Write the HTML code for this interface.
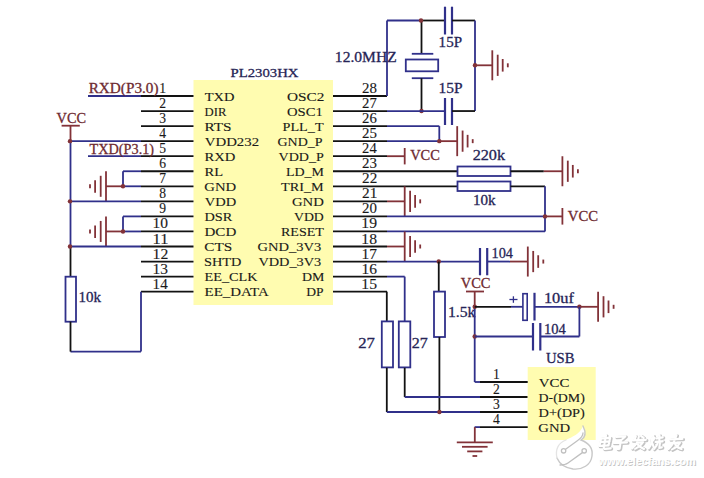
<!DOCTYPE html>
<html><head><meta charset="utf-8"><style>
html,body{margin:0;padding:0;background:#fff;}
svg{display:block;font-family:"Liberation Serif",serif;}
</style></head><body>
<svg width="704" height="478" viewBox="0 0 704 478">
<rect width="704" height="478" fill="#fff"/>
<rect x="193.5" y="80" width="139.5" height="225" fill="#fffcb0"/>
<text x="230.54" y="77.2" fill="#262456" stroke="#262456" stroke-width="0.28" font-size="12.6" textLength="67.87" lengthAdjust="spacingAndGlyphs">PL2303HX</text>
<line x1="141" y1="96.0" x2="193.5" y2="96.0" stroke="#121212" stroke-width="1.8"/>
<text x="162.7" y="93.0" fill="#1a1a1a" stroke="#1a1a1a" stroke-width="0.12" font-size="13.6" text-anchor="middle">1</text>
<text x="204.7" y="100.5" fill="#1a1a1a" stroke="#1a1a1a" stroke-width="0.12" font-size="13.2" textLength="29.72" lengthAdjust="spacingAndGlyphs">TXD</text>
<line x1="333" y1="96.0" x2="387" y2="96.0" stroke="#121212" stroke-width="1.8"/>
<text x="362.11" y="93.0" fill="#1a1a1a" stroke="#1a1a1a" stroke-width="0.12" font-size="13.6" textLength="14.9" lengthAdjust="spacingAndGlyphs">28</text>
<text x="286.93" y="100.5" fill="#1a1a1a" stroke="#1a1a1a" stroke-width="0.12" font-size="13.2" textLength="37.35" lengthAdjust="spacingAndGlyphs">OSC2</text>
<line x1="141" y1="111.05" x2="193.5" y2="111.05" stroke="#121212" stroke-width="1.8"/>
<text x="162.7" y="108.05" fill="#1a1a1a" stroke="#1a1a1a" stroke-width="0.12" font-size="13.6" text-anchor="middle">2</text>
<text x="204.59" y="115.55" fill="#1a1a1a" stroke="#1a1a1a" stroke-width="0.12" font-size="13.2" textLength="21.86" lengthAdjust="spacingAndGlyphs">DIR</text>
<line x1="333" y1="111.05" x2="387" y2="111.05" stroke="#121212" stroke-width="1.8"/>
<text x="362.11" y="108.05" fill="#1a1a1a" stroke="#1a1a1a" stroke-width="0.12" font-size="13.6" textLength="14.75" lengthAdjust="spacingAndGlyphs">27</text>
<text x="286.96" y="115.55" fill="#1a1a1a" stroke="#1a1a1a" stroke-width="0.12" font-size="13.2" textLength="35.86" lengthAdjust="spacingAndGlyphs">OSC1</text>
<line x1="141" y1="126.1" x2="193.5" y2="126.1" stroke="#121212" stroke-width="1.8"/>
<text x="162.7" y="123.1" fill="#1a1a1a" stroke="#1a1a1a" stroke-width="0.12" font-size="13.6" text-anchor="middle">3</text>
<text x="204.54" y="130.6" fill="#1a1a1a" stroke="#1a1a1a" stroke-width="0.12" font-size="13.2" textLength="27.02" lengthAdjust="spacingAndGlyphs">RTS</text>
<line x1="333" y1="126.1" x2="387" y2="126.1" stroke="#121212" stroke-width="1.8"/>
<text x="362.11" y="123.1" fill="#1a1a1a" stroke="#1a1a1a" stroke-width="0.12" font-size="13.6" textLength="14.77" lengthAdjust="spacingAndGlyphs">26</text>
<text x="282.55" y="130.6" fill="#1a1a1a" stroke="#1a1a1a" stroke-width="0.12" font-size="13.2" textLength="41.02" lengthAdjust="spacingAndGlyphs">PLL_T</text>
<line x1="141" y1="141.15" x2="193.5" y2="141.15" stroke="#121212" stroke-width="1.8"/>
<text x="162.7" y="138.15" fill="#1a1a1a" stroke="#1a1a1a" stroke-width="0.12" font-size="13.6" text-anchor="middle">4</text>
<text x="204.79" y="145.65" fill="#1a1a1a" stroke="#1a1a1a" stroke-width="0.12" font-size="13.2" textLength="54.26" lengthAdjust="spacingAndGlyphs">VDD232</text>
<line x1="333" y1="141.15" x2="387" y2="141.15" stroke="#121212" stroke-width="1.8"/>
<text x="362.1" y="138.15" fill="#1a1a1a" stroke="#1a1a1a" stroke-width="0.12" font-size="13.6" textLength="14.92" lengthAdjust="spacingAndGlyphs">25</text>
<text x="277.49" y="145.65" fill="#1a1a1a" stroke="#1a1a1a" stroke-width="0.12" font-size="13.2" textLength="45.01" lengthAdjust="spacingAndGlyphs">GND_P</text>
<line x1="141" y1="156.2" x2="193.5" y2="156.2" stroke="#121212" stroke-width="1.8"/>
<text x="162.7" y="153.2" fill="#1a1a1a" stroke="#1a1a1a" stroke-width="0.12" font-size="13.6" text-anchor="middle">5</text>
<text x="204.54" y="160.7" fill="#1a1a1a" stroke="#1a1a1a" stroke-width="0.12" font-size="13.2" textLength="30.89" lengthAdjust="spacingAndGlyphs">RXD</text>
<line x1="333" y1="156.2" x2="387" y2="156.2" stroke="#121212" stroke-width="1.8"/>
<text x="362.12" y="153.2" fill="#1a1a1a" stroke="#1a1a1a" stroke-width="0.12" font-size="13.6" textLength="14.55" lengthAdjust="spacingAndGlyphs">24</text>
<text x="278.6" y="160.7" fill="#1a1a1a" stroke="#1a1a1a" stroke-width="0.12" font-size="13.2" textLength="45.2" lengthAdjust="spacingAndGlyphs">VDD_P</text>
<line x1="141" y1="171.25" x2="193.5" y2="171.25" stroke="#121212" stroke-width="1.8"/>
<text x="162.7" y="168.25" fill="#1a1a1a" stroke="#1a1a1a" stroke-width="0.12" font-size="13.6" text-anchor="middle">6</text>
<text x="204.54" y="175.75" fill="#1a1a1a" stroke="#1a1a1a" stroke-width="0.12" font-size="13.2" textLength="18.57" lengthAdjust="spacingAndGlyphs">RL</text>
<line x1="333" y1="171.25" x2="387" y2="171.25" stroke="#121212" stroke-width="1.8"/>
<text x="362.1" y="168.25" fill="#1a1a1a" stroke="#1a1a1a" stroke-width="0.12" font-size="13.6" textLength="14.92" lengthAdjust="spacingAndGlyphs">23</text>
<text x="285.96" y="175.75" fill="#1a1a1a" stroke="#1a1a1a" stroke-width="0.12" font-size="13.2" textLength="38.09" lengthAdjust="spacingAndGlyphs">LD_M</text>
<line x1="141" y1="186.3" x2="193.5" y2="186.3" stroke="#121212" stroke-width="1.8"/>
<text x="162.7" y="183.3" fill="#1a1a1a" stroke="#1a1a1a" stroke-width="0.12" font-size="13.6" text-anchor="middle">7</text>
<text x="204.36" y="190.8" fill="#1a1a1a" stroke="#1a1a1a" stroke-width="0.12" font-size="13.2" textLength="31.87" lengthAdjust="spacingAndGlyphs">GND</text>
<line x1="333" y1="186.3" x2="387" y2="186.3" stroke="#121212" stroke-width="1.8"/>
<text x="362.09" y="183.3" fill="#1a1a1a" stroke="#1a1a1a" stroke-width="0.12" font-size="13.6" textLength="15.19" lengthAdjust="spacingAndGlyphs">22</text>
<text x="281.1" y="190.8" fill="#1a1a1a" stroke="#1a1a1a" stroke-width="0.12" font-size="13.2" textLength="42.55" lengthAdjust="spacingAndGlyphs">TRI_M</text>
<line x1="141" y1="201.35000000000002" x2="193.5" y2="201.35000000000002" stroke="#121212" stroke-width="1.8"/>
<text x="162.7" y="198.35" fill="#1a1a1a" stroke="#1a1a1a" stroke-width="0.12" font-size="13.6" text-anchor="middle">8</text>
<text x="204.8" y="205.85" fill="#1a1a1a" stroke="#1a1a1a" stroke-width="0.12" font-size="13.2" textLength="31.42" lengthAdjust="spacingAndGlyphs">VDD</text>
<line x1="333" y1="201.35000000000002" x2="387" y2="201.35000000000002" stroke="#121212" stroke-width="1.8"/>
<text x="362.09" y="198.35" fill="#1a1a1a" stroke="#1a1a1a" stroke-width="0.12" font-size="13.6" textLength="15.27" lengthAdjust="spacingAndGlyphs">21</text>
<text x="291.96" y="205.85" fill="#1a1a1a" stroke="#1a1a1a" stroke-width="0.12" font-size="13.2" textLength="31.87" lengthAdjust="spacingAndGlyphs">GND</text>
<line x1="141" y1="216.4" x2="193.5" y2="216.4" stroke="#121212" stroke-width="1.8"/>
<text x="162.7" y="213.4" fill="#1a1a1a" stroke="#1a1a1a" stroke-width="0.12" font-size="13.6" text-anchor="middle">9</text>
<text x="204.55" y="220.9" fill="#1a1a1a" stroke="#1a1a1a" stroke-width="0.12" font-size="13.2" textLength="27.81" lengthAdjust="spacingAndGlyphs">DSR</text>
<line x1="333" y1="216.4" x2="387" y2="216.4" stroke="#121212" stroke-width="1.8"/>
<text x="362.11" y="213.4" fill="#1a1a1a" stroke="#1a1a1a" stroke-width="0.12" font-size="13.6" textLength="14.9" lengthAdjust="spacingAndGlyphs">20</text>
<text x="294.01" y="220.9" fill="#1a1a1a" stroke="#1a1a1a" stroke-width="0.12" font-size="13.2" textLength="29.78" lengthAdjust="spacingAndGlyphs">VDD</text>
<line x1="141" y1="231.45000000000002" x2="193.5" y2="231.45000000000002" stroke="#121212" stroke-width="1.8"/>
<text x="152.6" y="228.45" fill="#1a1a1a" stroke="#1a1a1a" stroke-width="0.12" font-size="13.6" textLength="15.42" lengthAdjust="spacingAndGlyphs">10</text>
<text x="204.53" y="235.95" fill="#1a1a1a" stroke="#1a1a1a" stroke-width="0.12" font-size="13.2" textLength="31.71" lengthAdjust="spacingAndGlyphs">DCD</text>
<line x1="333" y1="231.45000000000002" x2="387" y2="231.45000000000002" stroke="#121212" stroke-width="1.8"/>
<text x="361.38" y="228.45" fill="#1a1a1a" stroke="#1a1a1a" stroke-width="0.12" font-size="13.6" textLength="15.7" lengthAdjust="spacingAndGlyphs">19</text>
<text x="280.96" y="235.95" fill="#1a1a1a" stroke="#1a1a1a" stroke-width="0.12" font-size="13.2" textLength="42.92" lengthAdjust="spacingAndGlyphs">RESET</text>
<line x1="141" y1="246.5" x2="193.5" y2="246.5" stroke="#121212" stroke-width="1.8"/>
<text x="152.57" y="243.5" fill="#1a1a1a" stroke="#1a1a1a" stroke-width="0.12" font-size="13.6" textLength="15.82" lengthAdjust="spacingAndGlyphs">11</text>
<text x="204.34" y="251.0" fill="#1a1a1a" stroke="#1a1a1a" stroke-width="0.12" font-size="13.2" textLength="27.84" lengthAdjust="spacingAndGlyphs">CTS</text>
<line x1="333" y1="246.5" x2="387" y2="246.5" stroke="#121212" stroke-width="1.8"/>
<text x="361.38" y="243.5" fill="#1a1a1a" stroke="#1a1a1a" stroke-width="0.12" font-size="13.6" textLength="15.65" lengthAdjust="spacingAndGlyphs">18</text>
<text x="257.56" y="251.0" fill="#1a1a1a" stroke="#1a1a1a" stroke-width="0.12" font-size="13.2" textLength="63.74" lengthAdjust="spacingAndGlyphs">GND_3V3</text>
<line x1="141" y1="261.55" x2="193.5" y2="261.55" stroke="#121212" stroke-width="1.8"/>
<text x="152.58" y="258.55" fill="#1a1a1a" stroke="#1a1a1a" stroke-width="0.12" font-size="13.6" textLength="15.73" lengthAdjust="spacingAndGlyphs">12</text>
<text x="204.0" y="266.05" fill="#1a1a1a" stroke="#1a1a1a" stroke-width="0.12" font-size="13.2" textLength="37.41" lengthAdjust="spacingAndGlyphs">SHTD</text>
<line x1="333" y1="261.55" x2="387" y2="261.55" stroke="#121212" stroke-width="1.8"/>
<text x="361.4" y="258.55" fill="#1a1a1a" stroke="#1a1a1a" stroke-width="0.12" font-size="13.6" textLength="15.49" lengthAdjust="spacingAndGlyphs">17</text>
<text x="258.4" y="266.05" fill="#1a1a1a" stroke="#1a1a1a" stroke-width="0.12" font-size="13.2" textLength="62.9" lengthAdjust="spacingAndGlyphs">VDD_3V3</text>
<line x1="141" y1="276.6" x2="193.5" y2="276.6" stroke="#121212" stroke-width="1.8"/>
<text x="152.6" y="273.6" fill="#1a1a1a" stroke="#1a1a1a" stroke-width="0.12" font-size="13.6" textLength="15.44" lengthAdjust="spacingAndGlyphs">13</text>
<text x="204.55" y="281.1" fill="#1a1a1a" stroke="#1a1a1a" stroke-width="0.12" font-size="13.2" textLength="53.04" lengthAdjust="spacingAndGlyphs">EE_CLK</text>
<line x1="333" y1="276.6" x2="387" y2="276.6" stroke="#121212" stroke-width="1.8"/>
<text x="361.4" y="273.6" fill="#1a1a1a" stroke="#1a1a1a" stroke-width="0.12" font-size="13.6" textLength="15.5" lengthAdjust="spacingAndGlyphs">16</text>
<text x="301.96" y="281.1" fill="#1a1a1a" stroke="#1a1a1a" stroke-width="0.12" font-size="13.2" textLength="22.39" lengthAdjust="spacingAndGlyphs">DM</text>
<line x1="141" y1="291.65" x2="193.5" y2="291.65" stroke="#121212" stroke-width="1.8"/>
<text x="152.64" y="288.65" fill="#1a1a1a" stroke="#1a1a1a" stroke-width="0.12" font-size="13.6" textLength="15.04" lengthAdjust="spacingAndGlyphs">14</text>
<text x="204.55" y="296.15" fill="#1a1a1a" stroke="#1a1a1a" stroke-width="0.12" font-size="13.2" textLength="64.09" lengthAdjust="spacingAndGlyphs">EE_DATA</text>
<line x1="333" y1="291.65" x2="387" y2="291.65" stroke="#121212" stroke-width="1.8"/>
<text x="361.38" y="288.65" fill="#1a1a1a" stroke="#1a1a1a" stroke-width="0.12" font-size="13.6" textLength="15.67" lengthAdjust="spacingAndGlyphs">15</text>
<text x="306.17" y="296.15" fill="#1a1a1a" stroke="#1a1a1a" stroke-width="0.12" font-size="13.2" textLength="17.31" lengthAdjust="spacingAndGlyphs">DP</text>
<line x1="88" y1="96.0" x2="141" y2="96.0" stroke="#30308a" stroke-width="1.8"/>
<text x="88.72" y="93.1" fill="#6e2a30" stroke="#6e2a30" stroke-width="0.28" font-size="14" textLength="69.79" lengthAdjust="spacingAndGlyphs">RXD(P3.0)</text>
<line x1="70" y1="141.15" x2="141" y2="141.15" stroke="#30308a" stroke-width="1.8"/>
<text x="56.6" y="122.9" fill="#6e2a30" stroke="#6e2a30" stroke-width="0.28" font-size="14" textLength="29.43" lengthAdjust="spacingAndGlyphs">VCC</text>
<line x1="61.6" y1="125.7" x2="79.8" y2="125.7" stroke="#823238" stroke-width="1.8"/>
<line x1="70.5" y1="125.7" x2="70.5" y2="141.15" stroke="#823238" stroke-width="1.8"/>
<line x1="88" y1="156.2" x2="141" y2="156.2" stroke="#30308a" stroke-width="1.8"/>
<text x="89.6" y="153.7" fill="#6e2a30" stroke="#6e2a30" stroke-width="0.28" font-size="14" textLength="64.46" lengthAdjust="spacingAndGlyphs">TXD(P3.1)</text>
<line x1="123" y1="171.25" x2="141" y2="171.25" stroke="#30308a" stroke-width="1.8"/>
<line x1="123" y1="171.25" x2="123" y2="186.3" stroke="#30308a" stroke-width="1.8"/>
<line x1="123" y1="186.3" x2="141" y2="186.3" stroke="#30308a" stroke-width="1.8"/>
<line x1="106" y1="186.3" x2="123" y2="186.3" stroke="#823238" stroke-width="1.8"/>
<line x1="106" y1="171.3" x2="106" y2="201.3" stroke="#823238" stroke-width="1.8"/>
<line x1="100.7" y1="175.8" x2="100.7" y2="196.8" stroke="#823238" stroke-width="1.8"/>
<line x1="95.1" y1="180.3" x2="95.1" y2="192.8" stroke="#823238" stroke-width="1.8"/>
<line x1="90" y1="184.3" x2="90" y2="188.3" stroke="#823238" stroke-width="1.8"/>
<circle cx="123" cy="186.3" r="2.2" fill="#823238"/>
<line x1="70.5" y1="201.35000000000002" x2="141" y2="201.35000000000002" stroke="#30308a" stroke-width="1.8"/>
<line x1="123" y1="216.4" x2="141" y2="216.4" stroke="#30308a" stroke-width="1.8"/>
<line x1="123" y1="216.4" x2="123" y2="231.45000000000002" stroke="#30308a" stroke-width="1.8"/>
<line x1="123" y1="231.45000000000002" x2="141" y2="231.45000000000002" stroke="#30308a" stroke-width="1.8"/>
<line x1="106" y1="231.45000000000002" x2="123" y2="231.45000000000002" stroke="#823238" stroke-width="1.8"/>
<line x1="106" y1="216.45000000000002" x2="106" y2="246.45000000000002" stroke="#823238" stroke-width="1.8"/>
<line x1="100.7" y1="220.95000000000002" x2="100.7" y2="241.95000000000002" stroke="#823238" stroke-width="1.8"/>
<line x1="95.1" y1="225.45000000000002" x2="95.1" y2="237.95000000000002" stroke="#823238" stroke-width="1.8"/>
<line x1="90" y1="229.45000000000002" x2="90" y2="233.45000000000002" stroke="#823238" stroke-width="1.8"/>
<circle cx="123" cy="231.45000000000002" r="2.2" fill="#823238"/>
<line x1="70.5" y1="246.5" x2="141" y2="246.5" stroke="#30308a" stroke-width="1.8"/>
<line x1="70.5" y1="141.15" x2="70.5" y2="246.5" stroke="#30308a" stroke-width="1.8"/>
<line x1="70.5" y1="246.5" x2="70.5" y2="276.7" stroke="#121212" stroke-width="1.8"/>
<circle cx="70" cy="141.15" r="2.2" fill="#823238"/>
<circle cx="70" cy="201.35000000000002" r="2.2" fill="#823238"/>
<circle cx="70" cy="246.5" r="2.2" fill="#823238"/>
<rect x="65.5" y="276.7" width="10.5" height="45" stroke="#30308a" fill="#fff" stroke-width="1.8"/>
<text x="78.64" y="302.0" fill="#262456" stroke="#262456" stroke-width="0.28" font-size="14" textLength="22.5" lengthAdjust="spacingAndGlyphs">10k</text>
<line x1="141" y1="291.65" x2="141" y2="351.6" stroke="#30308a" stroke-width="1.8"/>
<line x1="70.5" y1="351.6" x2="141" y2="351.6" stroke="#30308a" stroke-width="1.8"/>
<line x1="70.5" y1="321.6" x2="70.5" y2="351.6" stroke="#121212" stroke-width="1.8"/>
<line x1="387" y1="96.0" x2="387" y2="20.5" stroke="#30308a" stroke-width="1.8"/>
<line x1="387" y1="20.5" x2="421" y2="20.5" stroke="#30308a" stroke-width="1.8"/>
<line x1="421" y1="20.5" x2="445" y2="20.5" stroke="#121212" stroke-width="1.8"/>
<line x1="445" y1="6.7" x2="445" y2="34.5" stroke="#30308a" stroke-width="2.2"/>
<line x1="452" y1="6.7" x2="452" y2="34.5" stroke="#30308a" stroke-width="2.2"/>
<line x1="452" y1="20.5" x2="475" y2="20.5" stroke="#121212" stroke-width="1.8"/>
<line x1="475" y1="20.5" x2="475" y2="111.05" stroke="#30308a" stroke-width="1.8"/>
<line x1="421.5" y1="20.5" x2="421.5" y2="53.8" stroke="#121212" stroke-width="1.8"/>
<line x1="411.8" y1="53.8" x2="433.3" y2="53.8" stroke="#30308a" stroke-width="1.8"/>
<rect x="405.8" y="59.5" width="32.4" height="11.8" stroke="#30308a" fill="#fff" stroke-width="1.8"/>
<line x1="411.8" y1="78.2" x2="433.3" y2="78.2" stroke="#30308a" stroke-width="1.8"/>
<line x1="421.5" y1="78.2" x2="421.5" y2="111.05" stroke="#121212" stroke-width="1.8"/>
<circle cx="421" cy="20.5" r="2.2" fill="#823238"/>
<circle cx="421.5" cy="111.05" r="2.2" fill="#823238"/>
<line x1="387" y1="111.05" x2="445" y2="111.05" stroke="#30308a" stroke-width="1.8"/>
<line x1="445" y1="98" x2="445" y2="125" stroke="#30308a" stroke-width="2.2"/>
<line x1="452" y1="98" x2="452" y2="125" stroke="#30308a" stroke-width="2.2"/>
<line x1="452" y1="111.05" x2="475" y2="111.05" stroke="#121212" stroke-width="1.8"/>
<text x="334.89" y="61.5" fill="#262456" stroke="#262456" stroke-width="0.28" font-size="14" textLength="61.8" lengthAdjust="spacingAndGlyphs">12.0MHZ</text>
<text x="438.64" y="47.3" fill="#262456" stroke="#262456" stroke-width="0.28" font-size="14" textLength="23.4" lengthAdjust="spacingAndGlyphs">15P</text>
<text x="438.51" y="92.5" fill="#262456" stroke="#262456" stroke-width="0.28" font-size="14" textLength="23.95" lengthAdjust="spacingAndGlyphs">15P</text>
<circle cx="475" cy="65.3" r="2.2" fill="#823238"/>
<line x1="475" y1="65.3" x2="492.3" y2="65.3" stroke="#823238" stroke-width="1.8"/>
<line x1="492.3" y1="50.3" x2="492.3" y2="80.3" stroke="#823238" stroke-width="1.8"/>
<line x1="497.7" y1="54.699999999999996" x2="497.7" y2="75.89999999999999" stroke="#823238" stroke-width="1.8"/>
<line x1="502.7" y1="59.0" x2="502.7" y2="71.6" stroke="#823238" stroke-width="1.8"/>
<line x1="507.8" y1="63.3" x2="507.8" y2="67.3" stroke="#823238" stroke-width="1.8"/>
<line x1="387" y1="126.1" x2="439.3" y2="126.1" stroke="#30308a" stroke-width="1.8"/>
<line x1="439.3" y1="126.1" x2="439.3" y2="141.15" stroke="#30308a" stroke-width="1.8"/>
<line x1="387" y1="141.15" x2="439.3" y2="141.15" stroke="#30308a" stroke-width="1.8"/>
<line x1="439.3" y1="141.15" x2="457.2" y2="141.15" stroke="#823238" stroke-width="1.8"/>
<circle cx="439.3" cy="141.15" r="2.2" fill="#823238"/>
<line x1="457.2" y1="126.15" x2="457.2" y2="156.15" stroke="#823238" stroke-width="1.8"/>
<line x1="462.59999999999997" y1="130.55" x2="462.59999999999997" y2="151.75" stroke="#823238" stroke-width="1.8"/>
<line x1="467.59999999999997" y1="134.85" x2="467.59999999999997" y2="147.45000000000002" stroke="#823238" stroke-width="1.8"/>
<line x1="472.7" y1="139.15" x2="472.7" y2="143.15" stroke="#823238" stroke-width="1.8"/>
<line x1="387" y1="156.2" x2="404.7" y2="156.2" stroke="#823238" stroke-width="1.8"/>
<line x1="404.7" y1="148" x2="404.7" y2="164.4" stroke="#823238" stroke-width="1.8"/>
<text x="410.2" y="160.2" fill="#6e2a30" stroke="#6e2a30" stroke-width="0.28" font-size="14" textLength="29.64" lengthAdjust="spacingAndGlyphs">VCC</text>
<line x1="387" y1="171.25" x2="457" y2="171.25" stroke="#121212" stroke-width="1.8"/>
<rect x="457.5" y="166.5" width="53" height="9.5" stroke="#30308a" fill="#fff" stroke-width="1.8"/>
<line x1="510.5" y1="171.25" x2="543.8" y2="171.25" stroke="#121212" stroke-width="1.8"/>
<line x1="543.8" y1="171.25" x2="562.4" y2="171.25" stroke="#823238" stroke-width="1.8"/>
<line x1="562.4" y1="156.25" x2="562.4" y2="186.25" stroke="#823238" stroke-width="1.8"/>
<line x1="567.8" y1="160.65" x2="567.8" y2="181.85" stroke="#823238" stroke-width="1.8"/>
<line x1="572.8" y1="164.95" x2="572.8" y2="177.55" stroke="#823238" stroke-width="1.8"/>
<line x1="577.9" y1="169.25" x2="577.9" y2="173.25" stroke="#823238" stroke-width="1.8"/>
<text x="472.65" y="159.9" fill="#262456" stroke="#262456" stroke-width="0.28" font-size="14" textLength="32.39" lengthAdjust="spacingAndGlyphs">220k</text>
<line x1="387" y1="186.3" x2="457" y2="186.3" stroke="#121212" stroke-width="1.8"/>
<rect x="457.5" y="181.5" width="53" height="9.5" stroke="#30308a" fill="#fff" stroke-width="1.8"/>
<line x1="510.5" y1="186.3" x2="545" y2="186.3" stroke="#121212" stroke-width="1.8"/>
<line x1="545" y1="186.3" x2="545" y2="231.45000000000002" stroke="#30308a" stroke-width="1.8"/>
<text x="473.04" y="204.7" fill="#262456" stroke="#262456" stroke-width="0.28" font-size="14" textLength="22.6" lengthAdjust="spacingAndGlyphs">10k</text>
<line x1="387" y1="201.35000000000002" x2="404.7" y2="201.35000000000002" stroke="#823238" stroke-width="1.8"/>
<line x1="404.7" y1="186.35000000000002" x2="404.7" y2="216.35000000000002" stroke="#823238" stroke-width="1.8"/>
<line x1="410.09999999999997" y1="190.75000000000003" x2="410.09999999999997" y2="211.95000000000002" stroke="#823238" stroke-width="1.8"/>
<line x1="415.09999999999997" y1="195.05" x2="415.09999999999997" y2="207.65000000000003" stroke="#823238" stroke-width="1.8"/>
<line x1="420.2" y1="199.35000000000002" x2="420.2" y2="203.35000000000002" stroke="#823238" stroke-width="1.8"/>
<line x1="387" y1="216.4" x2="545" y2="216.4" stroke="#30308a" stroke-width="1.8"/>
<line x1="545" y1="216.4" x2="562.4" y2="216.4" stroke="#823238" stroke-width="1.8"/>
<circle cx="545" cy="216.4" r="2.2" fill="#823238"/>
<line x1="562.4" y1="208" x2="562.4" y2="224.6" stroke="#823238" stroke-width="1.8"/>
<text x="567.8" y="221.1" fill="#6e2a30" stroke="#6e2a30" stroke-width="0.28" font-size="14" textLength="30.15" lengthAdjust="spacingAndGlyphs">VCC</text>
<line x1="387" y1="231.45000000000002" x2="545" y2="231.45000000000002" stroke="#30308a" stroke-width="1.8"/>
<line x1="387" y1="246.5" x2="404.7" y2="246.5" stroke="#823238" stroke-width="1.8"/>
<line x1="404.7" y1="231.5" x2="404.7" y2="261.5" stroke="#823238" stroke-width="1.8"/>
<line x1="410.09999999999997" y1="235.9" x2="410.09999999999997" y2="257.1" stroke="#823238" stroke-width="1.8"/>
<line x1="415.09999999999997" y1="240.2" x2="415.09999999999997" y2="252.8" stroke="#823238" stroke-width="1.8"/>
<line x1="420.2" y1="244.5" x2="420.2" y2="248.5" stroke="#823238" stroke-width="1.8"/>
<line x1="387" y1="261.55" x2="480" y2="261.55" stroke="#30308a" stroke-width="1.8"/>
<line x1="480" y1="248" x2="480" y2="275.3" stroke="#30308a" stroke-width="2.2"/>
<line x1="487.2" y1="248" x2="487.2" y2="275.3" stroke="#30308a" stroke-width="2.2"/>
<line x1="487.2" y1="261.55" x2="510" y2="261.55" stroke="#30308a" stroke-width="1.8"/>
<line x1="510" y1="261.55" x2="527.8" y2="261.55" stroke="#823238" stroke-width="1.8"/>
<line x1="527.8" y1="246.55" x2="527.8" y2="276.55" stroke="#823238" stroke-width="1.8"/>
<line x1="533.1999999999999" y1="250.95000000000002" x2="533.1999999999999" y2="272.15000000000003" stroke="#823238" stroke-width="1.8"/>
<line x1="538.1999999999999" y1="255.25" x2="538.1999999999999" y2="267.85" stroke="#823238" stroke-width="1.8"/>
<line x1="543.3" y1="259.55" x2="543.3" y2="263.55" stroke="#823238" stroke-width="1.8"/>
<text x="491.5" y="258.1" fill="#262456" stroke="#262456" stroke-width="0.28" font-size="14" textLength="21.46" lengthAdjust="spacingAndGlyphs">104</text>
<circle cx="438.75" cy="261.55" r="2.2" fill="#823238"/>
<line x1="438.75" y1="261.55" x2="438.75" y2="291.6" stroke="#121212" stroke-width="1.8"/>
<rect x="434" y="291.6" width="11" height="45.4" stroke="#30308a" fill="#fff" stroke-width="1.8"/>
<line x1="439.4" y1="337" x2="439.4" y2="412" stroke="#121212" stroke-width="1.8"/>
<text x="447.98" y="317.1" fill="#262456" stroke="#262456" stroke-width="0.28" font-size="14" textLength="27.46" lengthAdjust="spacingAndGlyphs">1.5k</text>
<line x1="387" y1="276.6" x2="404.7" y2="276.6" stroke="#30308a" stroke-width="1.8"/>
<line x1="404.7" y1="276.6" x2="404.7" y2="321.4" stroke="#30308a" stroke-width="1.8"/>
<rect x="398.8" y="321.4" width="11.5" height="46" stroke="#30308a" fill="#fff" stroke-width="1.8"/>
<line x1="404.7" y1="367.8" x2="404.7" y2="397" stroke="#121212" stroke-width="1.8"/>
<line x1="404.7" y1="397" x2="480" y2="397" stroke="#30308a" stroke-width="1.8"/>
<line x1="480" y1="397" x2="527.7" y2="397" stroke="#121212" stroke-width="1.8"/>
<line x1="386.8" y1="291.65" x2="386.8" y2="321.4" stroke="#121212" stroke-width="1.8"/>
<rect x="381.8" y="321.4" width="11.2" height="46" stroke="#30308a" fill="#fff" stroke-width="1.8"/>
<line x1="386.8" y1="367.8" x2="386.8" y2="412" stroke="#121212" stroke-width="1.8"/>
<line x1="386.8" y1="412" x2="480" y2="412" stroke="#30308a" stroke-width="1.8"/>
<line x1="480" y1="412" x2="527.7" y2="412" stroke="#121212" stroke-width="1.8"/>
<circle cx="439.4" cy="412" r="2.2" fill="#823238"/>
<text x="358.23" y="347.7" fill="#262456" stroke="#262456" stroke-width="0.28" font-size="14" textLength="16.69" lengthAdjust="spacingAndGlyphs">27</text>
<text x="411.65" y="347.7" fill="#262456" stroke="#262456" stroke-width="0.28" font-size="14" textLength="16.05" lengthAdjust="spacingAndGlyphs">27</text>
<text x="460.7" y="288.2" fill="#6e2a30" stroke="#6e2a30" stroke-width="0.28" font-size="14" textLength="29.74" lengthAdjust="spacingAndGlyphs">VCC</text>
<line x1="466" y1="291.5" x2="484" y2="291.5" stroke="#823238" stroke-width="1.8"/>
<line x1="474.7" y1="291.5" x2="474.7" y2="306.8" stroke="#823238" stroke-width="1.8"/>
<line x1="474.7" y1="306.8" x2="474.7" y2="382" stroke="#30308a" stroke-width="1.8"/>
<circle cx="474.7" cy="306.8" r="2.2" fill="#823238"/>
<circle cx="474.7" cy="336.5" r="2.2" fill="#823238"/>
<line x1="474.7" y1="306.8" x2="511" y2="306.8" stroke="#121212" stroke-width="1.8"/>
<line x1="511" y1="306.8" x2="522.9" y2="306.8" stroke="#30308a" stroke-width="1.8"/>
<rect x="522.9" y="293.7" width="4.3" height="26.6" stroke="#30308a" fill="#fff" stroke-width="1.6"/>
<line x1="534.5" y1="292.8" x2="534.5" y2="320.5" stroke="#30308a" stroke-width="2.2"/>
<line x1="509.4" y1="299.5" x2="517.5" y2="299.5" stroke="#30308a" stroke-width="1.3"/>
<line x1="513.4" y1="296.3" x2="513.4" y2="302.8" stroke="#30308a" stroke-width="1.3"/>
<line x1="534.5" y1="306.8" x2="579.4" y2="306.8" stroke="#30308a" stroke-width="1.8"/>
<line x1="579.4" y1="306.8" x2="598.1" y2="306.8" stroke="#823238" stroke-width="1.8"/>
<circle cx="579.4" cy="306.8" r="2.2" fill="#823238"/>
<line x1="598.1" y1="291.8" x2="598.1" y2="321.8" stroke="#823238" stroke-width="1.8"/>
<line x1="603.5" y1="296.2" x2="603.5" y2="317.40000000000003" stroke="#823238" stroke-width="1.8"/>
<line x1="608.5" y1="300.5" x2="608.5" y2="313.1" stroke="#823238" stroke-width="1.8"/>
<line x1="613.6" y1="304.8" x2="613.6" y2="308.8" stroke="#823238" stroke-width="1.8"/>
<text x="543.92" y="303.1" fill="#262456" stroke="#262456" stroke-width="0.28" font-size="14" textLength="30.02" lengthAdjust="spacingAndGlyphs">10uf</text>
<line x1="579.4" y1="306.8" x2="579.4" y2="336.5" stroke="#30308a" stroke-width="1.8"/>
<line x1="474.7" y1="336.5" x2="533" y2="336.5" stroke="#30308a" stroke-width="1.8"/>
<line x1="533" y1="323" x2="533" y2="350.5" stroke="#30308a" stroke-width="2.2"/>
<line x1="540.3" y1="323" x2="540.3" y2="350.5" stroke="#30308a" stroke-width="2.2"/>
<line x1="540.3" y1="336.5" x2="579.4" y2="336.5" stroke="#30308a" stroke-width="1.8"/>
<text x="544.08" y="333.5" fill="#262456" stroke="#262456" stroke-width="0.28" font-size="14" textLength="21.78" lengthAdjust="spacingAndGlyphs">104</text>
<rect x="527.7" y="367" width="68" height="73" fill="#fffcb0"/>
<text x="545.95" y="363.2" fill="#262456" stroke="#262456" stroke-width="0.28" font-size="14" textLength="28.5" lengthAdjust="spacingAndGlyphs">USB</text>
<text x="496.3" y="379.0" fill="#1a1a1a" stroke="#1a1a1a" stroke-width="0.12" font-size="13.6" text-anchor="middle">1</text>
<text x="496.3" y="394.0" fill="#1a1a1a" stroke="#1a1a1a" stroke-width="0.12" font-size="13.6" text-anchor="middle">2</text>
<text x="496.3" y="409.0" fill="#1a1a1a" stroke="#1a1a1a" stroke-width="0.12" font-size="13.6" text-anchor="middle">3</text>
<text x="496.3" y="424.1" fill="#1a1a1a" stroke="#1a1a1a" stroke-width="0.12" font-size="13.6" text-anchor="middle">4</text>
<line x1="474.7" y1="382" x2="480" y2="382" stroke="#30308a" stroke-width="1.8"/>
<line x1="480" y1="382" x2="527.7" y2="382" stroke="#121212" stroke-width="1.8"/>
<line x1="474.6" y1="427.1" x2="480" y2="427.1" stroke="#30308a" stroke-width="1.8"/>
<line x1="480" y1="427.1" x2="527.7" y2="427.1" stroke="#121212" stroke-width="1.8"/>
<line x1="474.8" y1="427.1" x2="474.8" y2="442.4" stroke="#823238" stroke-width="1.8"/>
<line x1="456.8" y1="442.4" x2="492.8" y2="442.4" stroke="#823238" stroke-width="1.8"/>
<line x1="462" y1="446.8" x2="487.6" y2="446.8" stroke="#823238" stroke-width="1.8"/>
<line x1="467.2" y1="451.4" x2="482.4" y2="451.4" stroke="#823238" stroke-width="1.8"/>
<line x1="472.5" y1="456" x2="477.2" y2="456" stroke="#823238" stroke-width="1.8"/>
<text x="538.79" y="386.6" fill="#1a1a1a" stroke="#1a1a1a" stroke-width="0.12" font-size="13" textLength="30.57" lengthAdjust="spacingAndGlyphs">VCC</text>
<text x="538.56" y="401.6" fill="#1a1a1a" stroke="#1a1a1a" stroke-width="0.12" font-size="13" textLength="46.29" lengthAdjust="spacingAndGlyphs">D-(DM)</text>
<text x="538.55" y="416.6" fill="#1a1a1a" stroke="#1a1a1a" stroke-width="0.12" font-size="13" textLength="46.32" lengthAdjust="spacingAndGlyphs">D+(DP)</text>
<text x="538.36" y="431.7" fill="#1a1a1a" stroke="#1a1a1a" stroke-width="0.12" font-size="13" textLength="31.87" lengthAdjust="spacingAndGlyphs">GND</text>
<g fill="none" stroke="#d2d2d2" stroke-width="1.3" stroke-linecap="round">
<path d="M583,426 C586,432 586,437 581,440 C589,443 593,449 592,456 C591,465 582,470 573,469 C566,468 560,465 557,458 C555,450 558,443 566,440 C572,437 580,434 583,426 Z" fill="#fff" stroke="none"/>
<path d="M583,426 C586,432 586,437 581,440 C589,443 593,449 592,456 C591,465 582,470 573,469 C566,468 560,465 557,458" stroke="#c8c8c8" stroke-width="1.4"/>
<path d="M557,458 C555,450 558,443 566,440" stroke="#e4e4e4"/>
<circle cx="563.6" cy="450.8" r="2.2" stroke="#c0c0c0"/>
<circle cx="584.2" cy="450.8" r="2.2" stroke="#c0c0c0"/>
<path d="M565.6,449.2 L577,441 C580,439 583,437 583,433" stroke="#c0c0c0"/>
<path d="M582.4,452.6 L568,463 C566,464.5 563,465 560,465" stroke="#c0c0c0"/>
</g>
<g transform="translate(600.4,436.2) skewX(-8)"><path d="M2,3 L11,2.5 L10.5,10 L1.5,10.5 Z M2,6.5 L11,6 M6.5,0 L6,12 Q6,13.5 8,13.5 L13,13" fill="none" stroke="#c4c4c4" stroke-width="3.3" stroke-linecap="round" stroke-linejoin="round"/></g>
<g transform="translate(599.5,435.4) skewX(-8)"><path d="M2,3 L11,2.5 L10.5,10 L1.5,10.5 Z M2,6.5 L11,6 M6.5,0 L6,12 Q6,13.5 8,13.5 L13,13" fill="none" stroke="#ffffff" stroke-width="2.1" stroke-linecap="round" stroke-linejoin="round"/></g>
<g transform="translate(615.4,436.2) skewX(-8)"><path d="M2,1.5 L11,1 L7,5 M7,5 L7,13 Q7,14 5,13.5 M0.5,7.5 L13.5,7" fill="none" stroke="#c4c4c4" stroke-width="3.3" stroke-linecap="round" stroke-linejoin="round"/></g>
<g transform="translate(614.5,435.4) skewX(-8)"><path d="M2,1.5 L11,1 L7,5 M7,5 L7,13 Q7,14 5,13.5 M0.5,7.5 L13.5,7" fill="none" stroke="#ffffff" stroke-width="2.1" stroke-linecap="round" stroke-linejoin="round"/></g>
<g transform="translate(633.9,436.2) skewX(-8)"><path d="M3,1 L2,5 M8,0.5 L11,2.5 M0.5,5 L13.5,4.5 M6,1 Q6,8 1,13 M5,7.5 L11,7 Q9,11 4,13.5 M6,9 Q9,12 13,13.5" fill="none" stroke="#c4c4c4" stroke-width="3.3" stroke-linecap="round" stroke-linejoin="round"/></g>
<g transform="translate(633,435.4) skewX(-8)"><path d="M3,1 L2,5 M8,0.5 L11,2.5 M0.5,5 L13.5,4.5 M6,1 Q6,8 1,13 M5,7.5 L11,7 Q9,11 4,13.5 M6,9 Q9,12 13,13.5" fill="none" stroke="#ffffff" stroke-width="2.1" stroke-linecap="round" stroke-linejoin="round"/></g>
<g transform="translate(650.9,436.2) skewX(-8)"><path d="M1.5,3 L2.5,6 M5,2.5 L4,5 M3.5,0.5 Q3.5,8 0.5,13 M3.5,8 L5.5,12 M7,3 L13,2 M9.5,0 L10,5 M6.5,6.5 L13.5,6 M9,6.5 Q8.5,11 6,13.5 M11,6.5 L11,12.5 L13.5,12" fill="none" stroke="#c4c4c4" stroke-width="3.3" stroke-linecap="round" stroke-linejoin="round"/></g>
<g transform="translate(650,435.4) skewX(-8)"><path d="M1.5,3 L2.5,6 M5,2.5 L4,5 M3.5,0.5 Q3.5,8 0.5,13 M3.5,8 L5.5,12 M7,3 L13,2 M9.5,0 L10,5 M6.5,6.5 L13.5,6 M9,6.5 Q8.5,11 6,13.5 M11,6.5 L11,12.5 L13.5,12" fill="none" stroke="#ffffff" stroke-width="2.1" stroke-linecap="round" stroke-linejoin="round"/></g>
<g transform="translate(670.9,436.2) skewX(-8)"><path d="M1,4 L13,3.5 M6.5,0 Q5,9 0.5,13.5 M5.5,7.5 L11,7.5 Q9,12 4,14 M6.5,9 Q9,12.5 13.5,13.5" fill="none" stroke="#c4c4c4" stroke-width="3.3" stroke-linecap="round" stroke-linejoin="round"/></g>
<g transform="translate(670,435.4) skewX(-8)"><path d="M1,4 L13,3.5 M6.5,0 Q5,9 0.5,13.5 M5.5,7.5 L11,7.5 Q9,12 4,14 M6.5,9 Q9,12.5 13.5,13.5" fill="none" stroke="#ffffff" stroke-width="2.1" stroke-linecap="round" stroke-linejoin="round"/></g>
<text x="599.6" y="466" font-family="Liberation Sans" font-weight="bold" font-size="10.5" fill="#c4c4c4" textLength="97" lengthAdjust="spacingAndGlyphs">www.elecfans.com</text>
<text x="598.8" y="465.2" font-family="Liberation Sans" font-weight="bold" font-size="10.5" fill="#ffffff" textLength="97" lengthAdjust="spacingAndGlyphs">www.elecfans.com</text>
</svg></body></html>
